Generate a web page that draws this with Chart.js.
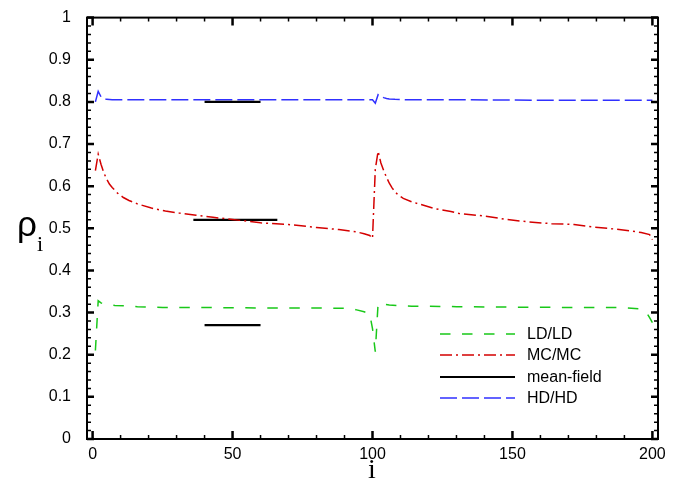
<!DOCTYPE html>
<html><head><meta charset="utf-8">
<script src="https://cdn.jsdelivr.net/npm/chart.js@4/dist/chart.umd.min.js"></script>
<style>html,body{margin:0;padding:0;background:#fff}#wrap{width:687px;height:483px}</style>
</head><body><div id="wrap"><canvas id="c" width="687" height="483"></canvas></div>
<script>
// ---- data ----
const xTicks = [0, 50, 100, 150, 200];
const xTickLabels = ['0', '50', '100', '150', '200'];
const yTicks = [0, 0.1, 0.2, 0.3, 0.4, 0.5, 0.6, 0.7, 0.8, 0.9, 1];
const yTickLabels = ['0', '0.1', '0.2', '0.3', '0.4', '0.5', '0.6', '0.7', '0.8', '0.9', '1'];
const seriesNames = ['LD/LD', 'MC/MC', 'mean-field', 'HD/HD'];

const ldI   = [1, 2, 3, 4, 6, 8, 12, 16, 25, 40, 60, 80, 90, 94, 97, 99, 100, 101, 102, 103, 104, 106, 110, 114, 120, 130, 150, 175, 188, 195, 197, 198, 199, 200];
const ldRho = [0.210, 0.328, 0.323, 0.320, 0.318, 0.317, 0.316, 0.314, 0.312, 0.312, 0.311, 0.311, 0.310, 0.307, 0.302, 0.297, 0.262, 0.207, 0.322, 0.321, 0.320, 0.318, 0.316, 0.315, 0.315, 0.314, 0.313, 0.312, 0.312, 0.309, 0.305, 0.299, 0.288, 0.276];

const mcI   = [1, 2, 3, 4, 5, 6, 7, 8, 9, 10, 11, 13, 16, 21, 26, 31, 37, 43, 50, 60, 70, 80, 88, 94, 97, 99, 100,
               101, 102, 103, 104, 105, 106, 107, 108, 109, 111, 114, 117, 122, 128, 131, 140, 148, 156, 164, 172, 179, 187, 193, 196, 199, 200];
const mcRho = [0.637, 0.676, 0.652, 0.632, 0.617, 0.605, 0.597, 0.590, 0.583, 0.578, 0.573, 0.566, 0.558, 0.548, 0.541, 0.536, 0.531, 0.526, 0.521, 0.513, 0.509, 0.502, 0.497, 0.492, 0.487, 0.483, 0.476,
               0.640, 0.683, 0.655, 0.637, 0.621, 0.607, 0.596, 0.587, 0.580, 0.571, 0.563, 0.557, 0.547, 0.540, 0.535, 0.529, 0.521, 0.515, 0.511, 0.509, 0.503, 0.498, 0.493, 0.490, 0.485, 0.473];

const mfI   = [40, 60, null, 36, 66, null, 40, 60];
const mfRho = [0.80, 0.80, null, 0.52, 0.52, null, 0.27, 0.27];

const hdI   = [1, 2, 3, 4, 5, 7, 10, 20, 40, 60, 80, 95, 100, 101, 102, 103, 104, 105, 106, 108, 112, 130, 160, 190, 200];
const hdRho = [0.800, 0.825, 0.812, 0.808, 0.806, 0.805, 0.805, 0.805, 0.805, 0.805, 0.805, 0.805, 0.805, 0.797, 0.817, 0.813, 0.810, 0.808, 0.807, 0.806, 0.805, 0.805, 0.804, 0.804, 0.804];

function pts(xs, ys) {
  const out = [];
  let last = 0;
  for (let k = 0; k < xs.length; k++) {
    if (xs[k] === null || ys[k] === null) { out.push({x: last, y: null}); }
    else { out.push({x: xs[k], y: ys[k]}); last = xs[k]; }
  }
  return out;
}

const SANS = "'Liberation Sans', Arial, Helvetica, sans-serif";
const SERIF = "'Liberation Serif', 'Times New Roman', serif";

const decor = {
  id: 'decor',
  afterDraw(chart) {
    const ctx = chart.ctx, a = chart.chartArea, xs = chart.scales.x, ys = chart.scales.y;
    ctx.save();
    ctx.strokeStyle = '#000';
    ctx.setLineDash([]);
    // minor ticks
    ctx.lineWidth = 1.5;
    ctx.beginPath();
    for (let v = 10; v < 200; v += 10) {
      if (v % 50 === 0) continue;
      const p = xs.getPixelForValue(v);
      ctx.moveTo(p, a.bottom); ctx.lineTo(p, a.bottom - 4);
      ctx.moveTo(p, a.top); ctx.lineTo(p, a.top + 4);
    }
    for (let k = 1; k < 50; k++) {
      if (k % 5 === 0) continue;
      const p = ys.getPixelForValue(k * 0.02);
      ctx.moveTo(a.left, p); ctx.lineTo(a.left + 4, p);
      ctx.moveTo(a.right, p); ctx.lineTo(a.right - 4, p);
    }
    ctx.stroke();
    // major ticks
    ctx.lineWidth = 2.5;
    ctx.beginPath();
    xTicks.forEach(v => {
      const p = xs.getPixelForValue(v);
      ctx.moveTo(p, a.bottom); ctx.lineTo(p, a.bottom - 8);
      ctx.moveTo(p, a.top); ctx.lineTo(p, a.top + 8);
    });
    yTicks.forEach(v => {
      const p = ys.getPixelForValue(v);
      ctx.moveTo(a.left, p); ctx.lineTo(a.left + 7, p);
      ctx.moveTo(a.right, p); ctx.lineTo(a.right - 7, p);
    });
    ctx.stroke();
    // frame
    ctx.lineWidth = 2;
    ctx.strokeRect(a.left, a.top, a.right - a.left, a.bottom - a.top);

    // legend
    const rows = [334, 355, 377, 398];
    chart.data.datasets.forEach((ds, k) => {
      const y = rows[k];
      ctx.save();
      ctx.strokeStyle = ds.borderColor;
      ctx.lineWidth = ds.borderWidth;
      ctx.setLineDash(ds.borderDash || []);
      ctx.beginPath();
      ctx.moveTo(440, y); ctx.lineTo(515, y);
      ctx.stroke();
      ctx.restore();
      ctx.fillStyle = '#000';
      ctx.font = '16px ' + SANS;
      ctx.textAlign = 'left';
      ctx.textBaseline = 'middle';
      ctx.fillText(ds.label, 527, y + 1);
    });

    // axis titles
    ctx.fillStyle = '#000';
    ctx.textBaseline = 'alphabetic';
    ctx.textAlign = 'left';
    ctx.font = '35px ' + SANS;
    ctx.fillText('\u03C1', 17, 236);
    ctx.font = '22px ' + SERIF;
    ctx.fillText('i', 37, 251);
    ctx.textAlign = 'center';
    ctx.font = '28px ' + SERIF;
    ctx.fillText('i', 372, 478);
    ctx.restore();
  }
};

new Chart(document.getElementById('c'), {
  type: 'line',
  data: {
    datasets: [
      { label: seriesNames[0], data: pts(ldI, ldRho), borderColor: '#19c819', borderWidth: 1.5, borderDash: [10.5, 11.5], pointRadius: 0, tension: 0, fill: false },
      { label: seriesNames[1], data: pts(mcI, mcRho), borderColor: '#d40000', borderWidth: 1.5, borderDash: [12, 4, 2, 4], pointRadius: 0, tension: 0, fill: false },
      { label: seriesNames[2], data: pts(mfI, mfRho), borderColor: '#000000', borderWidth: 2.2, borderDash: [], pointRadius: 0, tension: 0, fill: false, spanGaps: false },
      { label: seriesNames[3], data: pts(hdI, hdRho), borderColor: '#3030ff', borderWidth: 1.5, borderDash: [17, 5], pointRadius: 0, tension: 0, fill: false }
    ]
  },
  options: {
    responsive: false,
    devicePixelRatio: 1,
    animation: false,
    layout: { padding: { left: 0, right: 29, top: 15, bottom: 0 } },
    plugins: { legend: { display: false }, tooltip: { enabled: false } },
    scales: {
      x: {
        type: 'linear', min: -2, max: 202,
        afterBuildTicks: s => { s.ticks = xTicks.map(v => ({ value: v })); },
        afterFit: s => { s.height = 44; },
        ticks: { callback: (v, i) => xTickLabels[i], font: { size: 16, family: SANS }, color: '#000', padding: -2, maxRotation: 0, autoSkip: false },
        grid: { display: false },
        border: { display: false }
      },
      y: {
        type: 'linear', min: 0, max: 1,
        afterBuildTicks: s => { s.ticks = yTicks.map(v => ({ value: v })); },
        afterFit: s => { s.width = 87; },
        ticks: { callback: (v, i) => yTickLabels[i], font: { size: 16, family: SANS }, color: '#000', padding: 8, autoSkip: false },
        grid: { display: false },
        border: { display: false }
      }
    }
  },
  plugins: [decor]
});
</script>
</body></html>
